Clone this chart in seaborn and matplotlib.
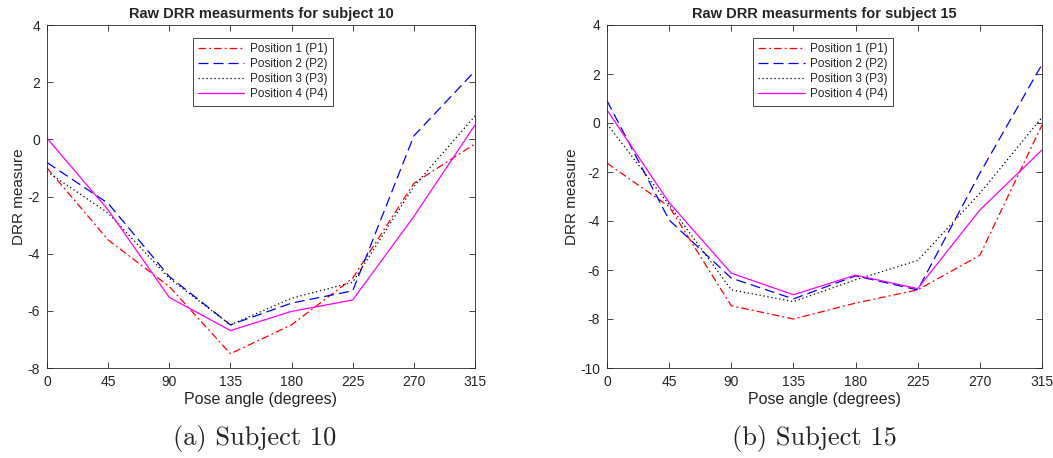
import matplotlib
matplotlib.use("Agg")
import matplotlib.pyplot as plt
import seaborn as sns
import pandas as pd

angles = [0, 45, 90, 135, 180, 225, 270, 315]
series_names = ["Position 1 (P1)", "Position 2 (P2)", "Position 3 (P3)", "Position 4 (P4)"]

s10_p1 = [-1.0, -3.52, -5.15, -7.5, -6.49, -4.86, -1.54, -0.16]
s10_p2 = [-0.81, -2.24, -4.8, -6.49, -5.73, -5.3, 0.12, 2.39]
s10_p3 = [-1.13, -2.58, -4.86, -6.49, -5.56, -5.0, -1.65, 0.82]
s10_p4 = [0.04, -2.47, -5.53, -6.69, -6.02, -5.62, -2.7, 0.5]

s15_p1 = [-1.64, -3.41, -7.46, -8.0, -7.35, -6.81, -5.4, -0.08]
s15_p2 = [0.91, -3.96, -6.33, -7.18, -6.24, -6.81, -2.05, 2.39]
s15_p3 = [-0.04, -3.34, -6.81, -7.29, -6.4, -5.61, -2.87, 0.23]
s15_p4 = [0.53, -3.25, -6.13, -7.01, -6.21, -6.76, -3.55, -1.1]

titles = ["Raw DRR measurments for subject 10", "Raw DRR measurments for subject 15"]
captions = ["(a) Subject 10", "(b) Subject 15"]
ylims = [(-8, 4), (-10, 4)]
xlabel = "Pose angle (degrees)"
ylabel = "DRR measure"

sns.set_style("ticks")
plt.rcParams["font.family"] = ["Liberation Sans", "DejaVu Sans"]
plt.rcParams["axes.unicode_minus"] = False

colors = ["#ff0000", "#0000ff", "#000000", "#ff00ff"]
styles = [(0, (6, 2.5, 1.5, 2.5)), (0, (8, 4)), (0, (1, 2.2)), "-"]

edge = "#262626"
fig = plt.figure(figsize=(10.53, 4.58), dpi=100)
axes_rects = [
    [47 / 1053, 1 - 368 / 458, 428 / 1053, 343 / 458],
    [607 / 1053, 1 - 368 / 458, 435 / 1053, 343 / 458],
]
datasets = [[s10_p1, s10_p2, s10_p3, s10_p4], [s15_p1, s15_p2, s15_p3, s15_p4]]

for i in range(2):
    ax = fig.add_axes(axes_rects[i])
    for j, vals in enumerate(datasets[i]):
        df = pd.DataFrame({"angle": angles, "val": vals})
        sns.lineplot(data=df, x="angle", y="val", ax=ax, color=colors[j],
                     linestyle=styles[j], linewidth=0.9, label=series_names[j])
    ax.set_xlim(0, 315)
    ax.set_ylim(*ylims[i])
    ax.set_xticks(angles)
    ax.set_yticks(range(ylims[i][0], ylims[i][1] + 1, 2))
    ax.tick_params(direction="in", top=True, right=True, length=4, width=0.6,
                   colors=edge, labelsize=10)
    ax.tick_params(axis="x", pad=5)
    ax.tick_params(axis="y", pad=5)
    for sp in ax.spines.values():
        sp.set_visible(True)
        sp.set_color(edge)
        sp.set_linewidth(0.6)
    ax.set_title(titles[i], fontsize=10.5, fontweight="bold", pad=5)
    ax.set_xlabel(xlabel, fontsize=11.5, color=edge, labelpad=2)
    ax.set_ylabel(ylabel, fontsize=11, color=edge, labelpad=1)
    leg = ax.legend(loc="upper left", bbox_to_anchor=(0.341 if i == 0 else 0.336, 0.962),
                    borderaxespad=0, fontsize=8.5, frameon=True, fancybox=False,
                    framealpha=1, edgecolor=edge, handlelength=3.9, labelspacing=0.25,
                    borderpad=0.45, handletextpad=0.5)
    leg.get_frame().set_linewidth(0.6)

fig.text(255 / 1053, 1 - 438 / 458, captions[0], ha="center", va="center",
         fontsize=19, family="cmr10")
fig.text(814 / 1053, 1 - 438 / 458, captions[1], ha="center", va="center",
         fontsize=19, family="cmr10")

fig.savefig("out.png", dpi=100, facecolor="white")
